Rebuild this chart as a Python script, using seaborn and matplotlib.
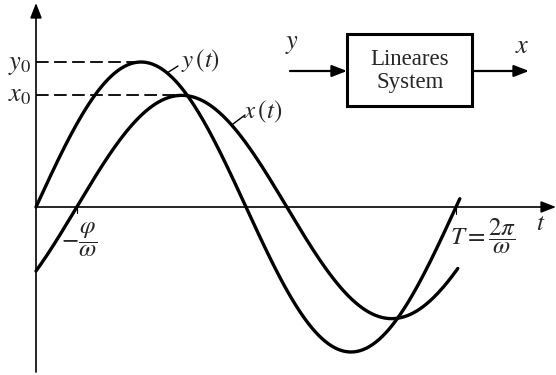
import numpy as np
import pandas as pd
import seaborn as sns
import matplotlib.pyplot as plt
from matplotlib.patches import Rectangle

############################
# 1. Signal parameters (omega = 1)
############################
omega = 1.0
y_amp = 1.0      # y0
x_amp = 0.77     # x0
phi = 0.61       # phase lag of x(t)
t_end_y = 6.34
t_end_x = 6.31

t_y = np.linspace(0, t_end_y, 400)
t_x = np.linspace(0, t_end_x, 400)
df_y = pd.DataFrame({"t": t_y, "v": y_amp * np.sin(omega * t_y)})
df_x = pd.DataFrame({"t": t_x, "v": x_amp * np.sin(omega * t_x - phi)})

# pixel -> data helper for labels (origin at px (36, 207), period = 420 px)
X0, Y0, PER, AMP = 36, 207, 420, 145
def P(xp, yp):
    return ((xp - X0) / PER * 2 * np.pi, (Y0 - yp) / AMP)

############################
# 2. Plot
############################
sns.set_style("white")
plt.rcParams["mathtext.fontset"] = "stix"
plt.rcParams["font.family"] = ["Liberation Serif", "DejaVu Serif"]

fig = plt.figure(figsize=(5.56, 3.75), dpi=100)
ax = fig.add_axes([0, 0, 1, 1])
xl = P(0, 0)[0], P(556, 0)[0]
yl = P(0, 375)[1], P(0, 0)[1]
ax.set_xlim(*xl)
ax.set_ylim(*yl)
ax.axis("off")

sns.lineplot(data=df_y, x="t", y="v", ax=ax, color="black", lw=2.4, sort=False)
sns.lineplot(data=df_x, x="t", y="v", ax=ax, color="black", lw=2.4, sort=False)

# coordinate axes with arrow heads
arr = dict(arrowstyle="-|>,head_length=0.9,head_width=0.35", color="black", lw=1.2,
           shrinkA=0, shrinkB=0)
ax.annotate("", xy=P(556, 207), xytext=P(36, 207), arrowprops=arr)
ax.annotate("", xy=P(36, 3), xytext=P(36, 372), arrowprops=arr)

# dashed amplitude lines
ax.plot([0, np.pi / 2], [y_amp, y_amp], color="black", lw=1.3, ls=(0, (7, 3)))
ax.plot([0, np.pi / 2 + phi], [x_amp, x_amp], color="black", lw=1.3, ls=(0, (7, 3)))
ax.text(*P(20, 66), r"$y_0$", fontsize=19, ha="center", va="center")
ax.text(*P(20, 96), r"$x_0$", fontsize=19, ha="center", va="center")

# curve labels
ax.plot(*zip(P(167, 73), P(178, 66)), color="black", lw=1)
ax.text(*P(181, 61), r"$y\,(t)$", fontsize=18, ha="left", va="center")
ax.plot(*zip(P(233, 124), P(245, 115)), color="black", lw=1)
ax.text(*P(243, 112), r"$x\,(t)$", fontsize=18, ha="left", va="center")

# ticks on t axis
ax.plot([phi, phi], [0, P(0, 213)[1]], color="black", lw=0.8)
ax.plot([2 * np.pi, 2 * np.pi], [0, P(0, 214)[1]], color="black", lw=0.8)
ax.text(*P(79, 240), r"$-\dfrac{\varphi}{\omega}$", fontsize=18, ha="center", va="center")
ax.text(*P(483, 236), r"$T=\dfrac{2\pi}{\omega}$", fontsize=18, ha="center", va="center")
ax.text(*P(541, 224), r"$t$", fontsize=18, ha="center", va="center")

# block diagram
bx, by = P(347, 106)
bw = P(472, 0)[0] - bx
bh = P(0, 34)[1] - by
ax.add_patch(Rectangle((bx, by), bw, bh, fill=False, ec="black", lw=2.2))
ax.text(*P(410, 71), "Lineares\nSystem", fontsize=16.5, ha="center", va="center",
        linespacing=1.15)
arr2 = dict(arrowstyle="-|>,head_length=0.9,head_width=0.35", color="black", lw=1.6,
            shrinkA=0, shrinkB=0)
ax.annotate("", xy=P(347, 71), xytext=P(290, 71), arrowprops=arr2)
ax.annotate("", xy=P(529, 71), xytext=P(472, 71), arrowprops=arr2)
ax.text(*P(292, 45), r"$y$", fontsize=19, ha="center", va="center")
ax.text(*P(522, 47), r"$x$", fontsize=19, ha="center", va="center")

fig.savefig("out.png", dpi=100)
